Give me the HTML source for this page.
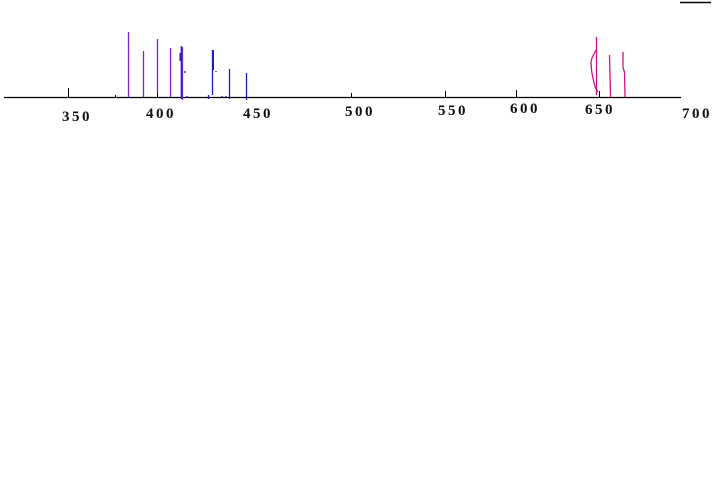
<!DOCTYPE html>
<html><head><meta charset="utf-8"><style>
html,body{margin:0;padding:0;background:#fff;}
svg{display:block;}
text{font-family:"Liberation Serif",serif;font-weight:bold;font-size:15px;letter-spacing:2.5px;fill:#111;}
</style></head><body>
<svg width="717" height="497" viewBox="0 0 717 497" xmlns="http://www.w3.org/2000/svg">
<rect width="717" height="497" fill="#fff"/>
<line x1="680" y1="2.5" x2="711" y2="2.5" stroke="#000" stroke-width="1.5"/>
<!-- axis -->
<line x1="4" y1="97.5" x2="681" y2="97.5" stroke="#000" stroke-width="1.3"/>
<!-- ticks -->
<g stroke="#000" stroke-width="1">
<line x1="68.5" y1="88" x2="68.5" y2="97"/>
<line x1="157.5" y1="92" x2="157.5" y2="97"/>
<line x1="351.5" y1="93" x2="351.5" y2="97"/>
<line x1="445.5" y1="91" x2="445.5" y2="97"/>
<line x1="516.5" y1="90" x2="516.5" y2="97"/>
<line x1="599.5" y1="91" x2="599.5" y2="97"/>
<line x1="115.5" y1="95" x2="115.5" y2="97"/>
</g>
<!-- purple lines -->
<g stroke="#7424cc" stroke-width="1.3">
<line x1="128.5" y1="32" x2="128.5" y2="97"/>
<line x1="143.5" y1="51" x2="143.5" y2="97"/>
<line x1="157.5" y1="39" x2="157.5" y2="93"/>
<line x1="170.5" y1="48" x2="170.5" y2="97"/>
<line x1="182.5" y1="47" x2="182.5" y2="100"/>
</g>
<!-- blue lines -->
<g stroke="#1c1cc4" stroke-width="1.3">
<line x1="181.3" y1="46" x2="181.3" y2="99"/>
<line x1="180.5" y1="53" x2="180.5" y2="61" stroke-width="2"/>
<line x1="212.5" y1="50" x2="212.5" y2="95"/>
<line x1="213" y1="50" x2="213" y2="70" stroke-width="2"/>
<line x1="229.5" y1="69" x2="229.5" y2="99"/>
<line x1="246.5" y1="73" x2="246.5" y2="100"/>
<line x1="208.5" y1="95" x2="208.5" y2="99"/>
<line x1="185" y1="71" x2="185" y2="73"/>
<line x1="216" y1="71" x2="216" y2="72"/>
<line x1="222" y1="96" x2="222" y2="97"/>
<line x1="226" y1="96" x2="226" y2="97"/>
<line x1="187" y1="96" x2="187" y2="98"/>
</g>
<!-- magenta lines -->
<g stroke="#cc1484" stroke-width="1.3" fill="none">
<line x1="596.5" y1="37" x2="596.5" y2="95"/>
<line x1="609.5" y1="55" x2="610.5" y2="97"/>
<polyline points="623,52 623,68 624.5,72 625,97"/>
<polyline points="596,50 594,54 592,58 591,62 591.5,70 592.5,76 594,83 595.5,88 598,92"/>
</g>
<!-- labels -->
<text x="62" y="121">350</text>
<text x="146" y="118">400</text>
<text x="243" y="118">450</text>
<text x="345" y="116">500</text>
<text x="438" y="115">550</text>
<text x="510" y="113">600</text>
<text x="585" y="114">650</text>
<text x="682" y="118">700</text>
</svg>
</body></html>
